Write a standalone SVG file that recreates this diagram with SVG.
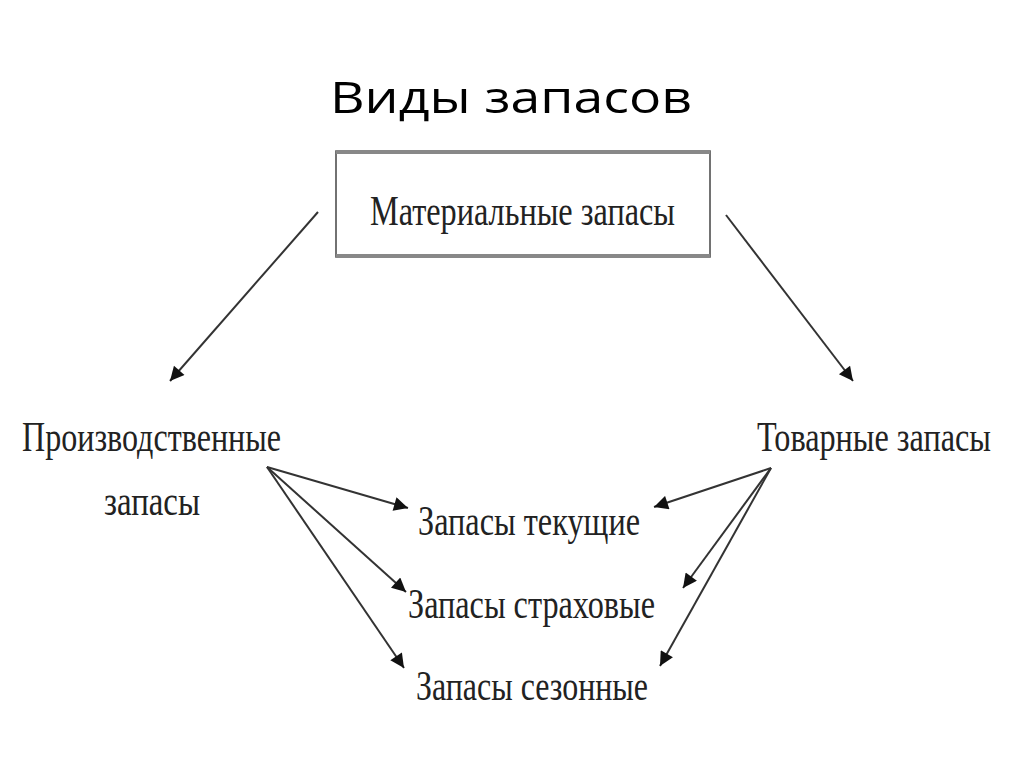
<svg xmlns="http://www.w3.org/2000/svg" width="1024" height="767" viewBox="0 0 1024 767">
<style>
.t{font-family:"Liberation Serif","Times New Roman",serif;fill:#222;font-size:42px;}
.title{font-family:"Open Sans","Noto Sans","Liberation Sans",sans-serif;fill:#000;font-size:44px;}
.c{stroke:#333;stroke-width:2;fill:none;marker-end:url(#ah);}
</style>
<defs>
<marker id="ah" viewBox="0 0 10 10" refX="10" refY="5" markerWidth="8" markerHeight="7" orient="auto" markerUnits="strokeWidth">
<path d="M0,0 L10,5 L0,10 z" fill="#111"/>
</marker>
</defs>
<rect width="1024" height="767" fill="#fff"/>
<text class="title" x="511" y="113" text-anchor="middle" textLength="362" lengthAdjust="spacingAndGlyphs">Виды запасов</text>
<g id="node-material">
<rect x="336" y="151" width="374" height="106" fill="#fff" stroke="#444" stroke-width="1.5"/>
<line x1="336" y1="152" x2="710" y2="152" stroke="#888" stroke-width="4"/>
<line x1="336" y1="256" x2="710" y2="256" stroke="#888" stroke-width="4"/>
<text class="t" x="370" y="225" textLength="305" lengthAdjust="spacingAndGlyphs">Материальные запасы</text>
</g>
<g id="node-production">
<text class="t" x="22" y="451" textLength="259" lengthAdjust="spacingAndGlyphs">Производственные</text>
<text class="t" x="104" y="515" textLength="96" lengthAdjust="spacingAndGlyphs">запасы</text>
</g>
<g id="node-goods">
<text class="t" x="757" y="451" textLength="234" lengthAdjust="spacingAndGlyphs">Товарные запасы</text>
</g>
<g id="node-current">
<text class="t" x="418" y="535" textLength="222" lengthAdjust="spacingAndGlyphs">Запасы текущие</text>
</g>
<g id="node-safety">
<text class="t" x="408" y="618" textLength="247" lengthAdjust="spacingAndGlyphs">Запасы страховые</text>
</g>
<g id="node-seasonal">
<text class="t" x="416" y="700" textLength="232" lengthAdjust="spacingAndGlyphs">Запасы сезонные</text>
</g>
<g id="connectors">
<line class="c" x1="318" y1="212" x2="170" y2="381"/>
<line class="c" x1="726" y1="215" x2="853" y2="381"/>
<line class="c" x1="267" y1="467" x2="408" y2="508"/>
<line class="c" x1="267" y1="467" x2="406" y2="592"/>
<line class="c" x1="267" y1="467" x2="404" y2="668"/>
<line class="c" x1="771" y1="468" x2="654" y2="507"/>
<line class="c" x1="771" y1="468" x2="683" y2="588"/>
<line class="c" x1="771" y1="468" x2="660" y2="666"/>
</g>
</svg>
